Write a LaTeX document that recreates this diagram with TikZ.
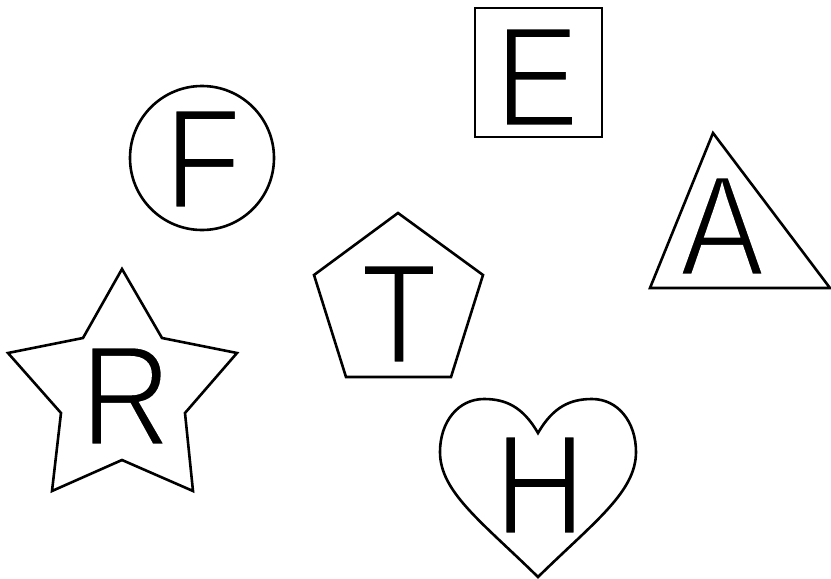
\documentclass[tikz,border=0pt]{standalone}
\usepackage{fontspec}
\setmainfont{Liberation Sans}[FakeStretch=0.88]
\newcommand{\thinglyph}[1]{\special{pdf:literal direct 2 Tr 0 g 1 G 3.0 w}#1\special{pdf:literal direct 0 Tr 1 w}}
\begin{document}
\begin{tikzpicture}[x=1pt,y=-1pt,
  outline/.style={draw=black,line width=2.6pt,line join=miter},
  letter/.style={inner sep=0pt,font=\fontsize{143}{143}\selectfont}]
\useasboundingbox (0,0) rectangle (831,579);
% square
\draw[outline] (475,8) rectangle (602,137);
% circle
\draw[outline] (202,158) circle (72);
% triangle
\draw[outline] (713,133) -- (830,288) -- (650,288) -- cycle;
% pentagon
\draw[outline] (398,213) -- (483,275) -- (451,377) -- (346,377) -- (314,275) -- cycle;
% star
\draw[outline] (122,269) -- (162,338) -- (237,353) -- (185,413) -- (193,491) -- (122,460) -- (52,491) -- (61,413) -- (8,353) -- (83,338) -- cycle;
% heart
\draw[outline] (538,433) .. controls (523,407) and (506,399) .. (484,399)
  .. controls (458,399) and (440,422) .. (440,452)
  .. controls (440,492) and (482,522) .. (538,577)
  .. controls (594,522) and (636,492) .. (636,452)
  .. controls (636,422) and (618,399) .. (592,399)
  .. controls (570,399) and (553,407) .. (538,433) -- cycle;
% letters
\node[letter] (E) at (537,77) {\thinglyph{E}};
\node[letter] (F) at (203,159) {\thinglyph{F}};
\node[letter] (A) at (722,226) {\thinglyph{A}};
\node[letter] (T) at (399,314) {\thinglyph{T}};
\node[letter] (R) at (126,396) {\thinglyph{R}};
\node[letter] (H) at (540,485) {\thinglyph{H}};
\end{tikzpicture}
\end{document}
